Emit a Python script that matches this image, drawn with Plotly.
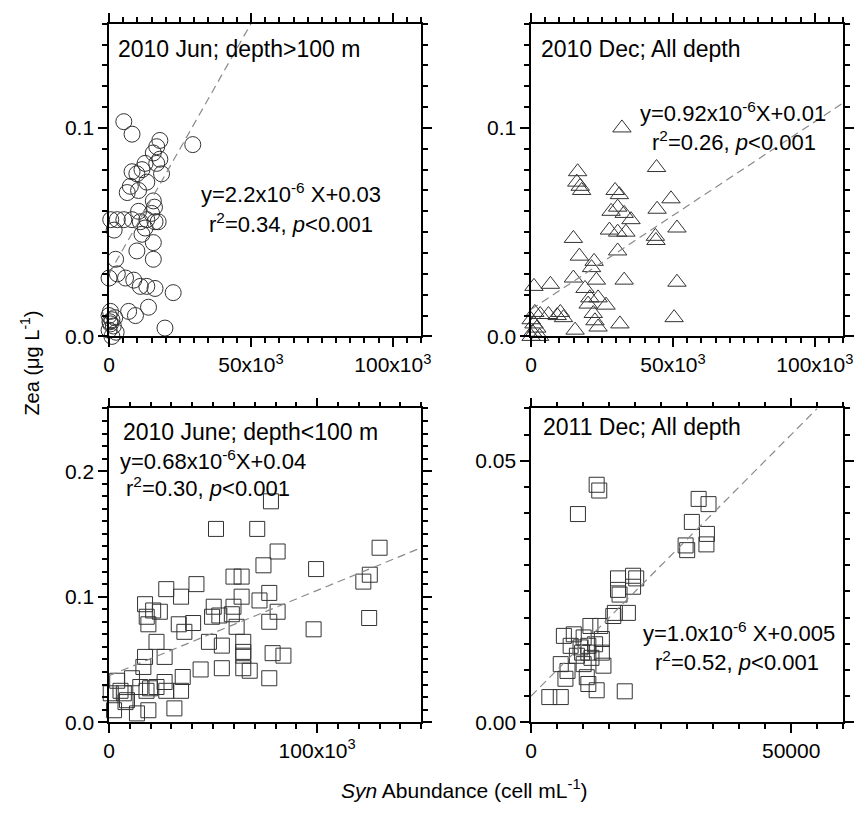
import plotly.graph_objects as go

# ---------------- data ----------------
# Panel a: 2010 Jun, depth > 100 m (circles)
jun_deep_x = [5200, 8100, 17900, 29500, 16800, 15600, 17900, 16800, 18500, 12700,
              9800, 11600, 8100, 13300, 6400, 7500, 10400, 15600, 16000, 15000, 17300,
              600, 2900, 5200, 8100, 11000, 13300, 16200, 10400, 11600, 12700, 15600,
              9800, 15600, 2300, 1800, 0, 2900, 5800, 8700, 11000, 13300, 16200, 22600,
              13900, 6900, 9300, 19700, 500, 0, 1000, 500, 1500, 0, 2500, 1000, 300, 2000]
jun_deep_y = [0.103, 0.097, 0.094, 0.092, 0.091, 0.088, 0.085, 0.083, 0.078, 0.083,
              0.078, 0.080, 0.079, 0.074, 0.069, 0.072, 0.070, 0.065, 0.062, 0.059, 0.055,
              0.056, 0.056, 0.056, 0.056, 0.055, 0.056, 0.055, 0.060, 0.049, 0.052, 0.045,
              0.041, 0.037, 0.037, 0.051, 0.028, 0.030, 0.028, 0.027, 0.024, 0.024, 0.023, 0.021,
              0.014, 0.012, 0.010, 0.004, 0.012, 0.010, 0.008, 0.006, 0.005, 0.003, 0.002, 0.000, 0.007, 0.009]
jun_deep_fit_x = [0, 50000]
jun_deep_fit_y = [0.03, 0.15]

# Panel b: 2010 Dec, all depth (triangles)
dec10_x = [32000, 44200, 16400, 16100, 17300, 17800, 29600, 31100, 28200, 30500, 32800, 35200,
           27600, 30500, 33400, 30500, 49300, 44400, 51400, 43800, 44000, 14900, 17000, 22200,
           21300, 23000, 14900, 19000, 32800, 51400, 1000, 6800, 20700, 23600, 26400, 20100,
           21900, 22500, 23600, 15500, 31300, 50400, 10300, 11400, 9200, 6100, 3200, 1300, 0,
           2000, 500, 3000, 1000, 0]
dec10_y = [0.100, 0.081, 0.079, 0.074, 0.072, 0.070, 0.070, 0.068, 0.060, 0.062, 0.059, 0.056,
           0.051, 0.050, 0.050, 0.041, 0.066, 0.061, 0.052, 0.048, 0.046, 0.047, 0.0385, 0.036,
           0.033, 0.027, 0.028, 0.023, 0.027, 0.026, 0.024, 0.025, 0.0185, 0.0185, 0.015, 0.0155,
           0.011, 0.0075, 0.0045, 0.003, 0.006, 0.009, 0.0115, 0.009, 0.010, 0.0105, 0.0105, 0.0115, 0.008,
           0.004, 0.002, 0.000, 0.006, 0.000]
dec10_fit_x = [0, 110000]
dec10_fit_y = [0.013, 0.112]

# Panel c: 2010 June, depth < 100 m (squares)
jun_sh_x = [77800, 51400, 71200, 81000, 74200, 59800, 63700, 42000, 27500, 34600, 17300, 77000,
            63700, 72300, 50300, 59800, 21200, 24400, 18100, 18900, 33500, 36200, 40400, 49500,
            53000, 59000, 61300, 77000, 81000, 22800, 17300, 26700, 48000, 54200, 64500, 64500,
            64500, 78600, 83800, 44000, 54200, 64500, 67600, 77000, 3900, 11000, 16500, 15000,
            19700, 22800, 26700, 35400, 34600, 800, 7900, 2400, 13400, 18900, 31400, 7100, 8600,
            5500, 18000, 27500, 130000, 99500, 125300, 122200, 125000, 98300]
jun_sh_y = [0.176, 0.154, 0.154, 0.136, 0.125, 0.116, 0.116, 0.110, 0.106, 0.100, 0.094, 0.103,
            0.100, 0.097, 0.092, 0.092, 0.089, 0.088, 0.084, 0.078, 0.078, 0.072, 0.079, 0.084,
            0.085, 0.086, 0.076, 0.080, 0.088, 0.064, 0.052, 0.052, 0.064, 0.061, 0.064, 0.056,
            0.053, 0.055, 0.053, 0.042, 0.043, 0.043, 0.041, 0.035, 0.033, 0.035, 0.044, 0.028,
            0.027, 0.028, 0.032, 0.036, 0.025, 0.023, 0.016, 0.0095, 0.007, 0.0095, 0.011, 0.023, 0.0175,
            0.025, 0.025, 0.025, 0.139, 0.122, 0.1175, 0.112, 0.083, 0.074]
jun_sh_fit_x = [0, 150000]
jun_sh_fit_y = [0.037, 0.139]

# Panel d: 2011 Dec, all depth (squares)
dec11_x = [12600, 13100, 9000, 32200, 34100, 30900, 33800, 33700, 29700, 30000, 16700, 19600,
           20200, 19600, 16700, 17000, 18600, 16100, 15800, 13300, 11400, 6300, 8200, 13600,
           10100, 7600, 9500, 11000, 12300, 9800, 11000, 8800, 11600, 13600, 5700, 7000, 10100,
           13900, 6600, 10700, 11000, 12600, 18000, 3500, 5700]
dec11_y = [0.0454, 0.0443, 0.0398, 0.0427, 0.0417, 0.0383, 0.036, 0.034, 0.0338, 0.0329, 0.0275, 0.028,
           0.0275, 0.0259, 0.0253, 0.0244, 0.0209, 0.0209, 0.0203, 0.0184, 0.0184, 0.0165, 0.0168, 0.0159,
           0.0162, 0.0146, 0.0143, 0.0146, 0.0149, 0.0133, 0.0133, 0.0127, 0.0123, 0.0133, 0.0111, 0.0098, 0.0111,
           0.0108, 0.0083, 0.0086, 0.0073, 0.0061, 0.0059, 0.0048, 0.0048]
dec11_fit_x = [0, 55000]
dec11_fit_y = [0.005, 0.060]

# tick label aliases (value as formatted -> shown text)
sci_alias = {"50000": "50x10<sup>3</sup>", "100000": "100x10<sup>3</sup>"}

# ---------------- figure ----------------
W, H = 866, 819
FONT = "Liberation Sans, Arial, sans-serif"
MK = "#333333"


def dom_x(a, b):
    return [a / W, b / W]


def dom_y(top, bottom):
    return [1 - bottom / H, 1 - top / H]


fig = go.Figure()

panels = [
    ("x", "y", jun_deep_x, jun_deep_y, "circle-open", 16, jun_deep_fit_x, jun_deep_fit_y),
    ("x2", "y2", dec10_x, dec10_y, "triangle-up-open", 16, dec10_fit_x, dec10_fit_y),
    ("x3", "y3", jun_sh_x, jun_sh_y, "square-open", 15, jun_sh_fit_x, jun_sh_fit_y),
    ("x4", "y4", dec11_x, dec11_y, "square-open", 15, dec11_fit_x, dec11_fit_y),
]
for xa, ya, xs, ys, sym, sz, fx, fy in panels:
    fig.add_trace(go.Scatter(x=xs, y=ys, xaxis=xa, yaxis=ya, mode="markers",
                             marker=dict(symbol=sym, size=sz, color=MK,
                                         line=dict(color=MK, width=1)),
                             cliponaxis=False, showlegend=False, hoverinfo="skip"))
    fig.add_trace(go.Scatter(x=fx, y=fy, xaxis=xa, yaxis=ya, mode="lines",
                             line=dict(color="#8a8a8a", width=1.2, dash="8px,5px"),
                             showlegend=False, hoverinfo="skip"))


def axis(domain, rng, dtick, fmt, minor_dtick, anchor, alias=None):
    d = dict(domain=domain, range=rng, tickmode="linear", tick0=0, dtick=dtick,
             tickformat=fmt, ticks="outside", ticklen=9, tickwidth=1.5,
             tickcolor="black", showline=True, linecolor="black", linewidth=1.5,
             mirror="ticks", showgrid=False, zeroline=False, anchor=anchor,
             tickfont=dict(family=FONT, size=21, color="black"),
             minor=dict(tickmode="linear", tick0=0, dtick=minor_dtick,
                        ticks="outside", ticklen=5, tickwidth=1.5,
                        tickcolor="black", showgrid=False))
    if alias:
        d["labelalias"] = alias
    return d


xa1 = dom_x(105, 423)
xa2 = dom_x(535, 853)
ya1 = dom_y(24, 341)
ya2 = dom_y(414, 732)

fig.update_layout(
    width=W, height=H, margin=dict(l=0, r=0, t=0, b=0),
    paper_bgcolor="white", plot_bgcolor="white",
    font=dict(family=FONT, color="black"),
    xaxis=axis(xa1, [0, 110000], 50000, "d", 5000, "y", sci_alias),
    yaxis=axis(ya1, [0, 0.15], 0.1, ".1f", 0.01, "x"),
    xaxis2=axis(xa2, [0, 110000], 50000, "d", 5000, "y2", sci_alias),
    yaxis2=axis(ya1, [0, 0.15], 0.1, ".1f", 0.01, "x2"),
    xaxis3=axis(xa1, [0, 150000], 100000, "d", 10000, "y3", sci_alias),
    yaxis3=axis(ya2, [0, 0.25], 0.1, ".1f", 0.01, "x3"),
    xaxis4=axis(xa2, [0, 60000], 50000, "d", 5000, "y4"),
    yaxis4=axis(ya2, [0, 0.06], 0.05, ".2f", 0.005, "x4"),
)


def px_ann(text, x, y, xanchor="center", size=22, **kw):
    return dict(text=text, x=x / W, y=1 - y / H, xref="paper", yref="paper",
                xanchor=xanchor, yanchor="middle", showarrow=False,
                font=dict(family=FONT, size=size, color="black"), **kw)


anns = [
    px_ann("2010 Jun; depth>100 m", 112, 50, "left", size=23),
    px_ann("y=2.2x10<sup>-6</sup> X+0.03", 290, 196),
    px_ann("r<sup>2</sup>=0.34, <i>p</i><0.001", 290, 226),
    px_ann("2010 Dec; All depth", 543, 50, "left", size=23),
    px_ann("y=0.92x10<sup>-6</sup>X+0.01", 741, 114),
    px_ann("r<sup>2</sup>=0.26, <i>p</i><0.001", 742, 143),
    px_ann("2010 June; depth<100 m", 249, 438, size=23),
    px_ann("y=0.68x10<sup>-6</sup>X+0.04", 211, 466),
    px_ann("r<sup>2</sup>=0.30, <i>p</i><0.001", 206, 494),
    px_ann("2011 Dec; All depth", 545, 433, "left", size=23),
    px_ann("y=1.0x10<sup>-6</sup> X+0.005", 747, 641),
    px_ann("r<sup>2</sup>=0.52, <i>p</i><0.001", 745, 670),
    px_ann("Zea (μg L<sup>-1</sup>)", 24, 368, size=20, textangle=-90),
    px_ann("<i>Syn</i> Abundance (cell mL<sup>-1</sup>)", 467, 800, size=21),
]
fig.update_layout(annotations=anns)

fig.write_html("out.html")
